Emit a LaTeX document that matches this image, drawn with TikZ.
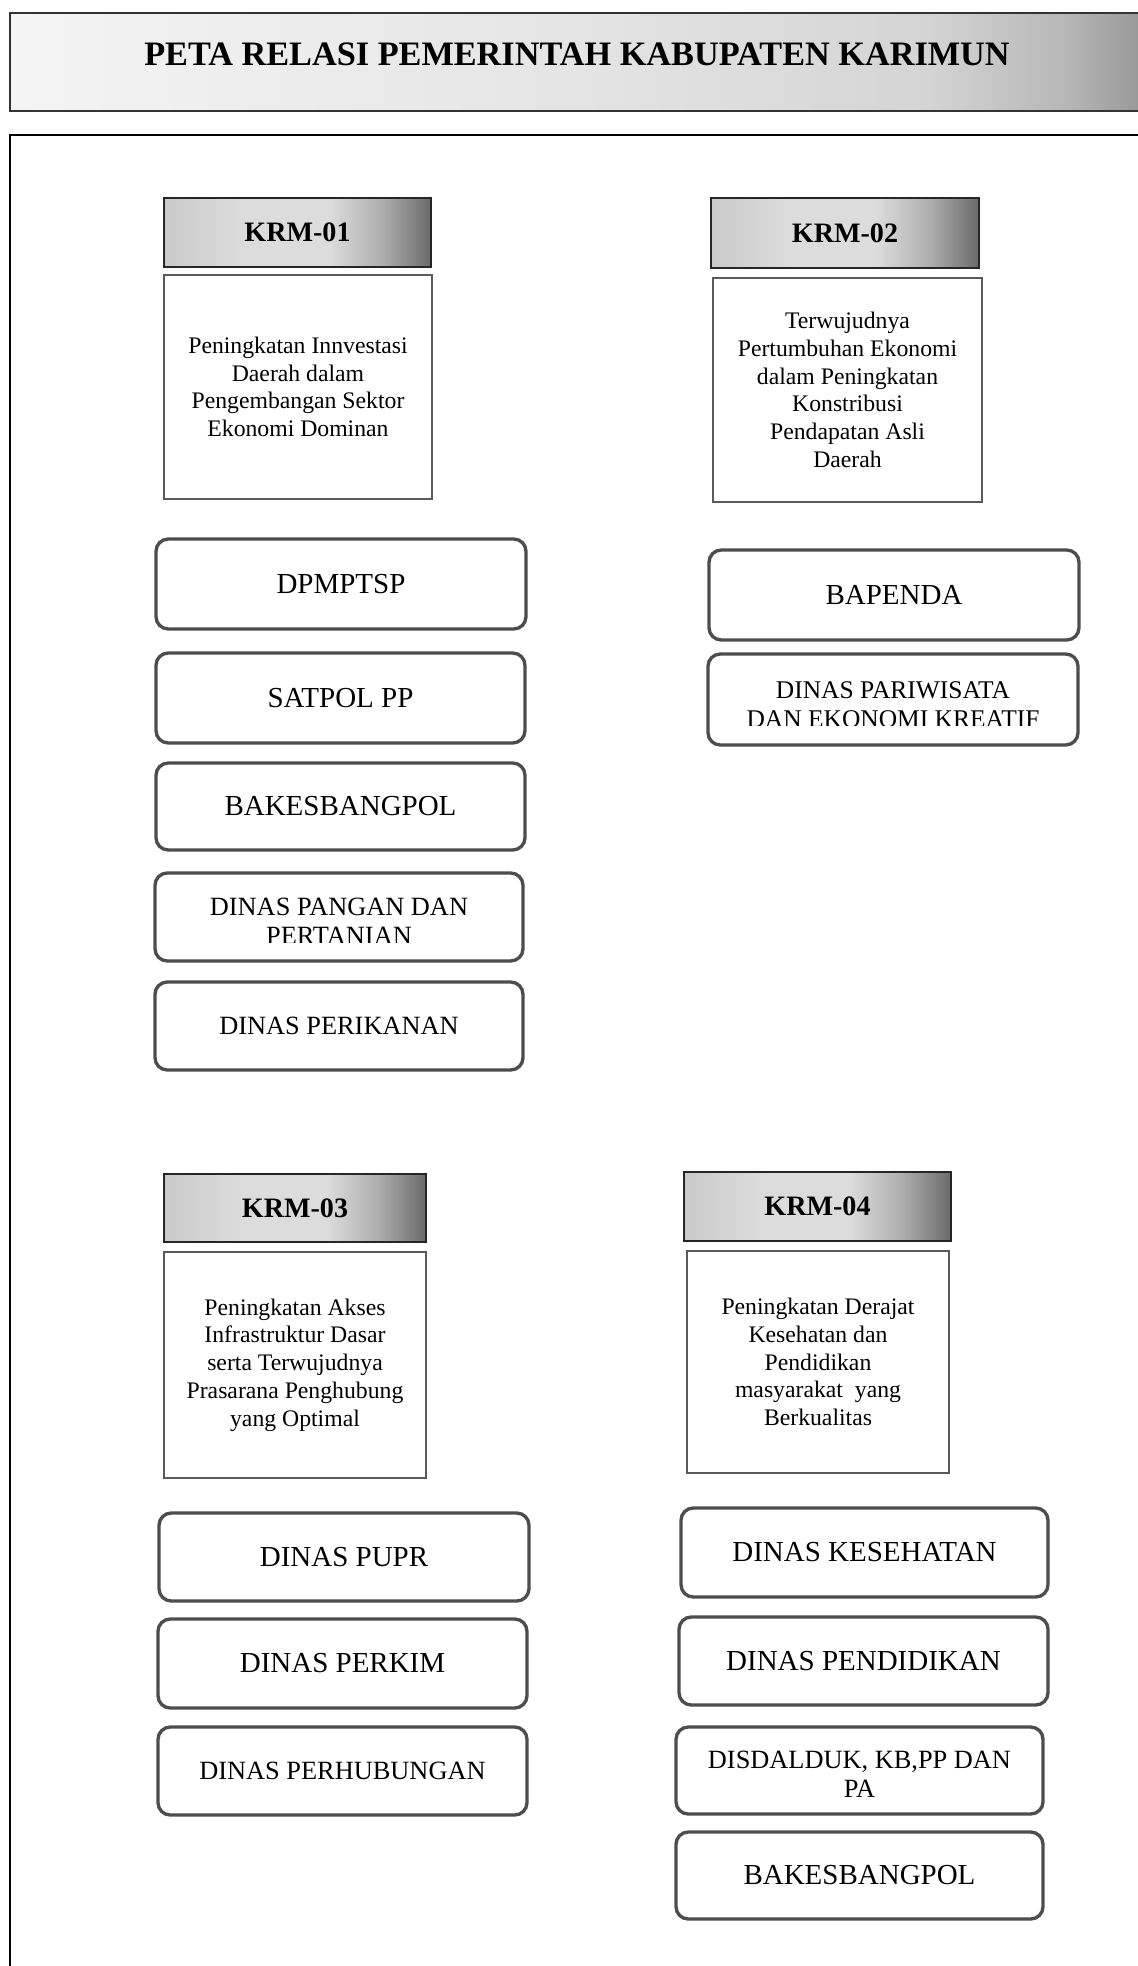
\documentclass[tikz,border=0pt]{standalone}
\usepackage{fontspec}
\setmainfont{Liberation Serif}
\definecolor{kA}{HTML}{CACACA}
\definecolor{kB}{HTML}{DCDCDC}
\definecolor{kC}{HTML}{ADADAD}
\definecolor{kD}{HTML}{6A6A6A}
\definecolor{tA}{HTML}{F4F4F4}
\definecolor{tB}{HTML}{E4E4E4}
\definecolor{tC}{HTML}{D4D4D4}
\definecolor{tD}{HTML}{B6B6B6}
\definecolor{tE}{HTML}{9A9A9A}
\definecolor{orgline}{HTML}{4D4D4D}
\definecolor{descline}{HTML}{5A5A5A}
\pgfdeclarehorizontalshading{krmshade}{100bp}{color(0bp)=(kA); color(25bp)=(kA); color(40bp)=(kB); color(56bp)=(kB); color(66bp)=(kC); color(75bp)=(kD); color(100bp)=(kD)}
\pgfdeclarehorizontalshading{titleshade}{100bp}{color(0bp)=(tA); color(25bp)=(tA); color(50bp)=(tB); color(65bp)=(tC); color(71bp)=(tD); color(74bp)=(tE); color(100bp)=(tE)}
\tikzset{
  boxat/.style n args={4}{at={({(#1+#3)/2},{(#2+#4)/2})}, minimum width={(#3-#1)*0.02cm}, minimum height={(#4-#2)*0.02cm}},
  titlebar/.style={draw=black!80, line width=1pt, shade, shading=titleshade, inner sep=0pt},
  titletext/.style={inner sep=0pt, font=\fontsize{19.5}{23}\selectfont\bfseries},
  frameline/.style={draw=black, line width=1.1pt, inner sep=0pt},
  krmhead/.style={draw=black!85, line width=1.1pt, shade, shading=krmshade, inner sep=0pt, font=\fontsize{16}{19}\selectfont\bfseries},
  descbox/.style={draw=descline, line width=0.7pt, fill=white, inner sep=0pt, align=center, font=\fontsize{13.5}{15.8}\selectfont},
  orgbox/.style={draw=orgline, line width=1.9pt, rounded corners=7pt, inner sep=0pt, align=center, font=\fontsize{16.5}{19}\selectfont},
  orgsmall/.style={orgbox, font=\fontsize{15}{17}\selectfont},
  lineA/.style={inner sep=0pt, anchor=base, font=\fontsize{15}{17}\selectfont},
  lineB/.style={inner sep=0pt, anchor=base, font=\fontsize{14.5}{17}\selectfont}
}
\begin{document}
\begin{tikzpicture}[x=0.02cm, y=-0.02cm]
\useasboundingbox (0,0) rectangle (1138,1966);
\clip (0,0) rectangle (1138,1966);
\fill[white] (0,0) rectangle (1138,1966);

% title bar
\node[titlebar, boxat={10}{13}{1160}{111}] (titlebox) {};
\node[titletext] (title) at (577,54) {PETA RELASI PEMERINTAH KABUPATEN KARIMUN};

% main frame
\node[frameline, boxat={10}{135}{1160}{1995}] (frame) {};

% KRM-01
\node[krmhead, boxat={164}{198}{431}{267}] (h1) {KRM-01};
\node[descbox, boxat={164}{275}{432}{499}] (d1) {Peningkatan Innvestasi\\Daerah dalam\\Pengembangan Sektor\\Ekonomi Dominan};
\node[orgbox, boxat={156}{539}{526}{629}] (o11) {DPMPTSP};
\node[orgbox, boxat={156}{653}{525}{743}] (o12) {SATPOL PP};
\node[orgbox, boxat={156}{763}{525}{850}] (o13) {BAKESBANGPOL};
\node[orgbox, boxat={155}{873}{523}{961}] (o14) {};
\begin{scope}
\clip (150,868) rectangle (530,942);
\node[lineA] (o14a) at (339,915) {DINAS PANGAN DAN};
\node[lineA] (o14b) at (339,944) {PERTANIAN};
\end{scope}
\node[orgsmall, boxat={155}{982}{523}{1070}] (o15) {DINAS PERIKANAN};

% KRM-02
\node[krmhead, boxat={711}{198}{979}{268}] (h2) {KRM-02};
\node[descbox, boxat={713}{278}{982}{502}] (d2) {Terwujudnya\\Pertumbuhan Ekonomi\\dalam Peningkatan\\Konstribusi\\Pendapatan Asli\\Daerah};
\node[orgbox, boxat={709}{550}{1079}{640}] (o21) {BAPENDA};
\node[orgbox, boxat={708}{654}{1078}{745}] (o22) {};
\begin{scope}
\clip (700,650) rectangle (1085,725);
\node[lineB] (o22a) at (893,698) {DINAS PARIWISATA};
\node[lineB] (o22b) at (893,727) {DAN EKONOMI KREATIF};
\end{scope}

% KRM-03
\node[krmhead, boxat={164}{1174}{426}{1242}] (h3) {KRM-03};
\node[descbox, boxat={164}{1252}{426}{1478}] (d3) {Peningkatan Akses\\Infrastruktur Dasar\\serta Terwujudnya\\Prasarana Penghubung\\yang Optimal};
\node[orgbox, boxat={159}{1513}{529}{1601}] (o31) {DINAS PUPR};
\node[orgbox, boxat={158}{1619}{527}{1708}] (o32) {DINAS PERKIM};
\node[orgsmall, boxat={158}{1727}{527}{1815}] (o33) {DINAS PERHUBUNGAN};

% KRM-04
\node[krmhead, boxat={684}{1172}{951}{1241}] (h4) {KRM-04};
\node[descbox, boxat={687}{1251}{949}{1473}] (d4) {Peningkatan Derajat\\Kesehatan dan\\Pendidikan\\masyarakat\ \ yang\\Berkualitas};
\node[orgbox, boxat={681}{1508}{1048}{1597}] (o41) {DINAS KESEHATAN};
\node[orgbox, boxat={679}{1617}{1048}{1705}] (o42) {DINAS PENDIDIKAN};
\node[orgbox, boxat={676}{1727}{1043}{1814}] (o43) {};
\begin{scope}
\clip (670,1722) rectangle (1050,1796);
\node[lineA] (o43a) at (859.5,1768) {DISDALDUK, KB,PP DAN};
\node[lineA] (o43b) at (859.5,1797) {PA};
\end{scope}
\node[orgbox, boxat={676}{1832}{1043}{1919}] (o44) {BAKESBANGPOL};
\end{tikzpicture}
\end{document}
